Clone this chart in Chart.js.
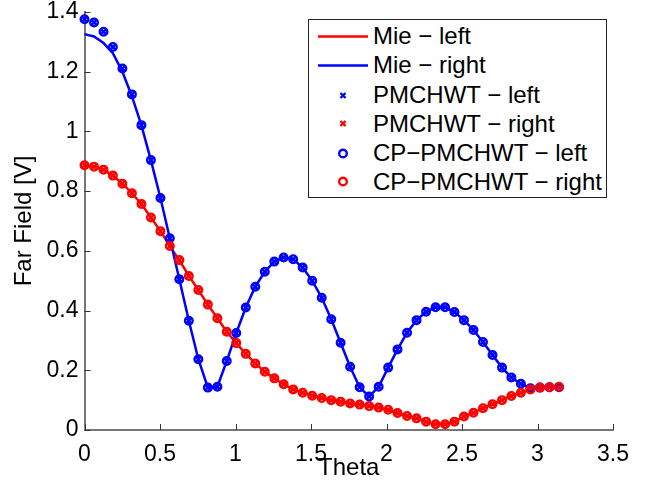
<!DOCTYPE html>
<html>
<head>
<meta charset="utf-8">
<script src="https://cdn.jsdelivr.net/npm/chart.js@4.4.1/dist/chart.umd.min.js"></script>
<style>
  html, body { margin: 0; padding: 0; background: #fff; overflow: hidden; }
  #wrap { position: relative; width: 653px; height: 491px; }
  #c { position: absolute; left: 0; top: 0; }
  #legend {
    position: absolute; left: 308px; top: 19px; width: 299px; height: 179px;
    border: 1px solid #222; background: #fff; box-sizing: border-box;
    font-family: "Liberation Sans", Arial, sans-serif; font-size: 24px; color: #000;
  }
  .row { position: absolute; left: 0; height: 29px; display: flex; align-items: center; white-space: nowrap; }
  .row svg { width: 50px; height: 29px; margin-left: 9px; margin-right: 5px; flex: none; }
</style>
</head>
<body>
<div id="wrap">
  <canvas id="c" width="653" height="491"></canvas>
  <div id="legend"></div>
</div>
<script>
// ---- data ----
const theta = [0, 0.063, 0.126, 0.188, 0.251, 0.314, 0.377, 0.440, 0.503, 0.565,
  0.628, 0.691, 0.754, 0.817, 0.880, 0.942, 1.005, 1.068, 1.131, 1.194,
  1.257, 1.319, 1.382, 1.445, 1.508, 1.571, 1.634, 1.696, 1.759, 1.822,
  1.885, 1.948, 2.011, 2.073, 2.136, 2.199, 2.262, 2.325, 2.388, 2.450,
  2.513, 2.576, 2.639, 2.702, 2.765, 2.827, 2.890, 2.953, 3.016, 3.079, 3.142];

// Mie - left (red line)
const mieLeft = [0.887, 0.882, 0.872, 0.852, 0.825, 0.793, 0.757, 0.712, 0.666, 0.616,
  0.569, 0.516, 0.469, 0.420, 0.374, 0.329, 0.291, 0.255, 0.223, 0.195,
  0.173, 0.153, 0.136, 0.125, 0.115, 0.107, 0.100, 0.095, 0.089, 0.085,
  0.080, 0.075, 0.068, 0.057, 0.047, 0.039, 0.028, 0.019, 0.019, 0.028,
  0.045, 0.058, 0.073, 0.086, 0.100, 0.114, 0.125, 0.136, 0.142, 0.143, 0.145];

// Mie - right (blue line)
const mieRight = [1.326, 1.318, 1.296, 1.262, 1.200, 1.118, 1.020, 0.903, 0.777, 0.642,
  0.505, 0.366, 0.237, 0.142, 0.145, 0.231, 0.325, 0.410, 0.480, 0.530,
  0.564, 0.578, 0.572, 0.544, 0.500, 0.443, 0.371, 0.292, 0.212, 0.143,
  0.112, 0.145, 0.209, 0.270, 0.326, 0.368, 0.396, 0.411, 0.411, 0.395,
  0.368, 0.335, 0.295, 0.251, 0.209, 0.176, 0.155, 0.140, 0.142, 0.143, 0.143];

// PMCHWT - left (blue x)
const pmchwtLeft = [1.376, 1.365, 1.334, 1.283, 1.211, 1.124, 1.021, 0.904, 0.777, 0.642,
  0.505, 0.366, 0.237, 0.142, 0.145, 0.231, 0.325, 0.410, 0.480, 0.530,
  0.564, 0.578, 0.572, 0.544, 0.500, 0.443, 0.371, 0.292, 0.212, 0.143,
  0.112, 0.145, 0.209, 0.270, 0.326, 0.368, 0.396, 0.411, 0.411, 0.395,
  0.368, 0.335, 0.295, 0.251, 0.209, 0.176, 0.155, 0.140, 0.142, 0.143, 0.143];

// PMCHWT - right (red x)
const pmchwtRight = [0.887, 0.882, 0.872, 0.852, 0.825, 0.793, 0.757, 0.712, 0.666, 0.616,
  0.569, 0.516, 0.469, 0.420, 0.374, 0.329, 0.291, 0.255, 0.223, 0.195,
  0.173, 0.153, 0.136, 0.125, 0.115, 0.107, 0.100, 0.095, 0.089, 0.085,
  0.080, 0.075, 0.068, 0.057, 0.047, 0.039, 0.028, 0.019, 0.019, 0.028,
  0.045, 0.058, 0.073, 0.086, 0.100, 0.114, 0.125, 0.136, 0.142, 0.143, 0.145];

// CP-PMCHWT - left (blue o)
const cpLeft = [1.376, 1.365, 1.334, 1.283, 1.211, 1.124, 1.021, 0.904, 0.777, 0.642,
  0.505, 0.366, 0.237, 0.142, 0.145, 0.231, 0.325, 0.410, 0.480, 0.530,
  0.564, 0.578, 0.572, 0.544, 0.500, 0.443, 0.371, 0.292, 0.212, 0.143,
  0.112, 0.145, 0.209, 0.270, 0.326, 0.368, 0.396, 0.411, 0.411, 0.395,
  0.368, 0.335, 0.295, 0.251, 0.209, 0.176, 0.155, 0.140, 0.142, 0.143, 0.143];

// CP-PMCHWT - right (red o)
const cpRight = [0.887, 0.882, 0.872, 0.852, 0.825, 0.793, 0.757, 0.712, 0.666, 0.616,
  0.569, 0.516, 0.469, 0.420, 0.374, 0.329, 0.291, 0.255, 0.223, 0.195,
  0.173, 0.153, 0.136, 0.125, 0.115, 0.107, 0.100, 0.095, 0.089, 0.085,
  0.080, 0.075, 0.068, 0.057, 0.047, 0.039, 0.028, 0.019, 0.019, 0.028,
  0.045, 0.058, 0.073, 0.086, 0.100, 0.114, 0.125, 0.136, 0.142, 0.143, 0.145];

const seriesNames = ["Mie \u2212 left", "Mie \u2212 right", "PMCHWT \u2212 left",
  "PMCHWT \u2212 right", "CP\u2212PMCHWT \u2212 left", "CP\u2212PMCHWT \u2212 right"];
const xTicks = [0, 0.5, 1, 1.5, 2, 2.5, 3, 3.5];
const yTicks = [0, 0.2, 0.4, 0.6, 0.8, 1, 1.2, 1.4];
const xTitle = "Theta";
const yTitle = "Far Field [V]";

// ---- build chart ----
const RED = "#ff0000", BLUE = "#0000ff";
const FONT = "'Liberation Sans', Arial, sans-serif";
const pts = arr => theta.map((t, i) => ({ x: t, y: arr[i] }));

function lineDs(label, arr, color, order) {
  return { label, data: pts(arr), borderColor: color, backgroundColor: color,
    borderWidth: 2.5, pointRadius: 0, showLine: true, tension: 0, clip: false, order };
}
function markDs(label, arr, color, style, radius, order) {
  return { label, data: pts(arr), borderColor: color, backgroundColor: "rgba(0,0,0,0)",
    showLine: false, pointStyle: style, pointRadius: radius, pointBorderWidth: 2.4,
    pointHoverRadius: radius, clip: false, order };
}

const inwardTicks = {
  id: "inwardTicks",
  beforeDatasetsDraw(chart) {
    const { ctx, chartArea, scales: { x, y } } = chart;
    ctx.save();
    ctx.strokeStyle = "#333";
    ctx.lineWidth = 1;
    x.ticks.forEach((t, i) => {
      const px = Math.round(x.getPixelForTick(i)) + 0.5;
      ctx.beginPath(); ctx.moveTo(px, chartArea.bottom); ctx.lineTo(px, chartArea.bottom - 6); ctx.stroke();
    });
    y.ticks.forEach((t, i) => {
      const py = Math.round(y.getPixelForTick(i)) + 0.5;
      ctx.beginPath(); ctx.moveTo(chartArea.left, py); ctx.lineTo(chartArea.left + 6, py); ctx.stroke();
    });
    ctx.restore();
  }
};

const fmt = v => String(Number(Number(v).toFixed(2)));

new Chart(document.getElementById("c"), {
  type: "line",
  data: {
    datasets: [
      lineDs(seriesNames[0], mieLeft, RED, 6),
      lineDs(seriesNames[1], mieRight, BLUE, 5),
      markDs(seriesNames[2], pmchwtLeft, BLUE, "crossRot", 3.4, 4),
      markDs(seriesNames[3], pmchwtRight, RED, "crossRot", 3.4, 3),
      markDs(seriesNames[4], cpLeft, BLUE, "circle", 3.8, 2),
      markDs(seriesNames[5], cpRight, RED, "circle", 3.8, 1)
    ]
  },
  options: {
    responsive: false,
    animation: false,
    events: [],
    layout: { padding: { top: 12, right: 40, left: 0, bottom: 0 } },
    plugins: { legend: { display: false }, tooltip: { enabled: false } },
    scales: {
      x: {
        type: "linear", min: 0, max: 3.5,
        afterBuildTicks: s => { s.ticks = xTicks.map(v => ({ value: v })); },
        afterFit: s => { s.height = 61; s.paddingLeft = 0; s.paddingRight = 0; s.paddingTop = 0; s.paddingBottom = 0; },
        ticks: { font: { family: FONT, size: 23 }, color: "#000", padding: 11, maxRotation: 0, autoSkip: false, callback: v => fmt(v) },
        grid: { display: false, drawTicks: false },
        border: { display: true, color: "#777", width: 2 },
        title: { display: true, text: xTitle, font: { family: FONT, size: 24 }, color: "#000", padding: { top: 0, bottom: 8 } }
      },
      y: {
        type: "linear", min: 0, max: 1.4,
        afterBuildTicks: s => { s.ticks = yTicks.map(v => ({ value: v })); },
        afterFit: s => { s.width = 84.5; s.paddingLeft = 0; s.paddingRight = 0; s.paddingTop = 0; s.paddingBottom = 0; },
        ticks: { font: { family: FONT, size: 23 }, color: "#000", padding: 6, autoSkip: false, callback: v => fmt(v) },
        grid: { display: false, drawTicks: false },
        border: { display: true, color: "#777", width: 2 },
        title: { display: true, text: yTitle, font: { family: FONT, size: 24 }, color: "#000", padding: { top: 10, bottom: 0 } }
      }
    }
  },
  plugins: [inwardTicks]
});

// ---- HTML legend (inside the plot, top right) ----
const legendSymbols = [
  { kind: "line", color: RED }, { kind: "line", color: BLUE },
  { kind: "x", color: BLUE }, { kind: "x", color: RED },
  { kind: "o", color: BLUE }, { kind: "o", color: RED }
];
const rowCenters = [16, 45.3, 75, 103.5, 133.3, 161.8];
const leg = document.getElementById("legend");
seriesNames.forEach((name, i) => {
  const s = legendSymbols[i];
  let shape = "";
  if (s.kind === "line") shape = `<line x1="0" y1="14.5" x2="50" y2="14.5" stroke="${s.color}" stroke-width="2.5"/>`;
  if (s.kind === "x") shape = `<path d="M22.5 12 L27.5 17 M27.5 12 L22.5 17" stroke="${s.color}" stroke-width="2.4"/>`;
  if (s.kind === "o") shape = `<circle cx="25" cy="14.5" r="3.8" fill="none" stroke="${s.color}" stroke-width="2.4"/>`;
  const row = document.createElement("div");
  row.className = "row";
  row.style.top = (rowCenters[i] - 14.5) + "px";
  row.innerHTML = `<svg viewBox="0 0 50 29">${shape}</svg><span>${name}</span>`;
  leg.appendChild(row);
});
</script>
</body>
</html>
